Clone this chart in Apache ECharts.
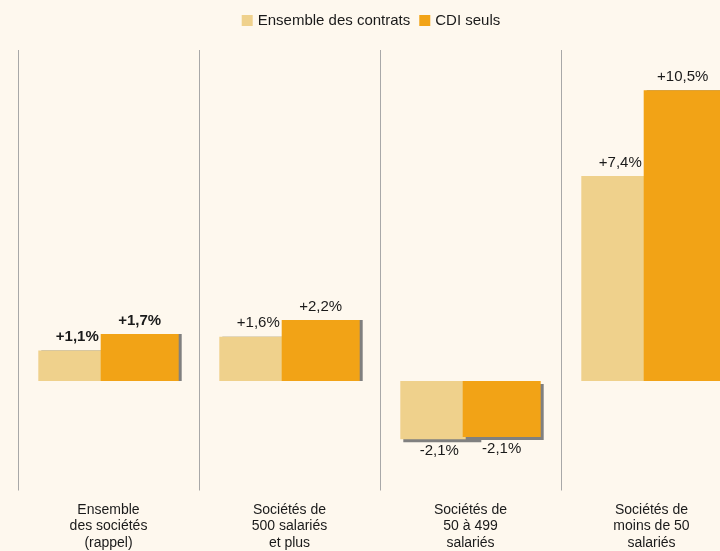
<!DOCTYPE html>
<html><head><meta charset="utf-8">
<script src="https://cdn.jsdelivr.net/npm/echarts@6/dist/echarts.min.js"></script>
<style>html,body{margin:0;padding:0;background:#FEF8EE;overflow:hidden;width:720px;height:551px;}#c{width:742px;height:551px;}</style>
</head><body><div id="c"></div>
<script>
const categories = ["Ensemble\ndes sociétés\n(rappel)", "Sociétés de\n500 salariés\net plus", "Sociétés de\n50 à 499\nsalariés", "Sociétés de\nmoins de 50\nsalariés"];
const seriesNames = ["Ensemble des contrats", "CDI seuls"];
const ensembleValues = [1.1, 1.6, -2.1, 7.4];
const cdiValues = [1.7, 2.2, -2.02, 10.5];
const ensembleLabels = ["+1,1%", "+1,6%", "-2,1%", "+7,4%"];
const cdiLabels = ["+1,7%", "+2,2%", "-2,1%", "+10,5%"];
const boldIndex = [0];

const colors = ["#EFD18C", "#F2A316"];
const font = "Liberation Sans, Arial, sans-serif";

function makeData(vals, labels) {
  return vals.map((v, i) => ({
    value: v,
    itemStyle: {shadowOffsetY: v >= 0 ? 0 : 3},
    label: {
      show: true,
      position: v >= 0 ? 'top' : 'bottom',
      distance: v >= 0 ? 6 : 4,
      formatter: labels[i],
      fontWeight: boldIndex.includes(i) ? 'bold' : 'normal',
      fontSize: 15,
      fontFamily: font,
      color: '#1a1a1a'
    }
  }));
}

const chart = echarts.init(document.getElementById('c'), null, {renderer: 'canvas'});
chart.setOption({
  backgroundColor: '#FEF8EE',
  animation: false,
  legend: {
    top: 8, left: 'center',
    itemWidth: 11, itemHeight: 11, itemGap: 9, itemStyle: {borderWidth: 0, shadowBlur: 0, shadowOffsetX: 0, shadowOffsetY: 0},
    icon: 'rect',
    textStyle: {fontFamily: font, fontSize: 15, color: '#1a1a1a'},
    data: seriesNames
  },
  grid: {left: 18, right: 0, top: 50, height: 441, containLabel: false},
  xAxis: {
    type: 'category', data: categories,
    axisLine: {show: false}, axisTick: {show: false},
    splitLine: {show: true, lineStyle: {color: '#A8A8A8', width: 1}},
    axisLabel: {interval: 0, fontFamily: font, fontSize: 14, color: '#1a1a1a', lineHeight: 16.5, margin: 11}
  },
  yAxis: {
    type: 'value', min: -3.95, max: 11.95,
    show: false, splitLine: {show: false}
  },
  series: [
    {name: seriesNames[0], type: 'bar', barWidth: 78, barGap: '-20%',
     itemStyle: {color: colors[0], shadowColor: '#808080', shadowOffsetX: 3, shadowOffsetY: 3, shadowBlur: 0},
     data: makeData(ensembleValues, ensembleLabels)},
    {name: seriesNames[1], type: 'bar', barWidth: 78, barGap: '-20%',
     itemStyle: {color: colors[1], shadowColor: '#808080', shadowOffsetX: 3, shadowOffsetY: 3, shadowBlur: 0},
     data: makeData(cdiValues, cdiLabels)}
  ]
});
</script></body></html>
